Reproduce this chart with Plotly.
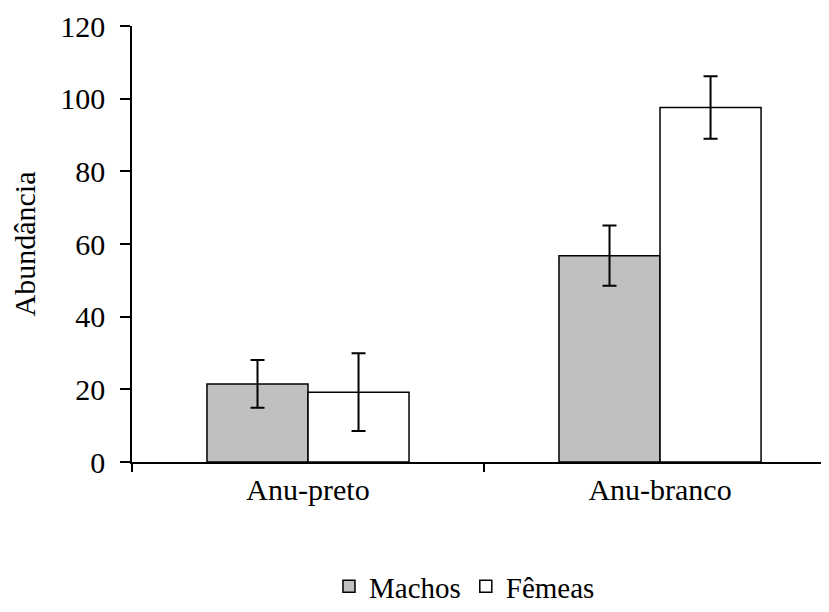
import plotly.graph_objects as go

categories = ["Anu-preto", "Anu-branco"]
machos = [21.5, 56.8]
machos_err = [6.6, 8.3]
femeas = [19.2, 97.6]
femeas_err = [10.7, 8.6]
y_ticks = [0, 20, 40, 60, 80, 100, 120]

FONT = "Liberation Serif, Times New Roman, serif"

fig = go.Figure()
fig.add_trace(go.Bar(
    name="Machos", x=categories, y=machos,
    marker=dict(color="#c0c0c0", line=dict(color="black", width=1.5)),
    error_y=dict(type="data", array=machos_err, color="black", thickness=2, width=7),
))
fig.add_trace(go.Bar(
    name="Fêmeas", x=categories, y=femeas,
    marker=dict(color="white", line=dict(color="black", width=1.5)),
    error_y=dict(type="data", array=femeas_err, color="black", thickness=2, width=7),
))

# page body has an 8px margin; compensate so the plot lands where the reference has it
fig.update_layout(
    width=821, height=604,
    margin=dict(l=124, r=0, t=18, b=150),
    paper_bgcolor="white", plot_bgcolor="white",
    barmode="group", bargap=0.426, bargroupgap=0,
    font=dict(family=FONT, size=30, color="black"),
    showlegend=True,
    legend=dict(orientation="h", x=0.477, xanchor="center",
                yref="container", y=0, yanchor="bottom",
                font=dict(family=FONT, size=29, color="black"),
                itemwidth=30, traceorder="normal"),
    xaxis=dict(
        range=[-0.5, 1.48],
        showline=True, linecolor="black", linewidth=1.5,
        ticks="outside", tickson="boundaries", ticklen=8, tickcolor="black", tickwidth=1.5,
        tickfont=dict(family=FONT, size=30, color="black"),
        showgrid=False, zeroline=False,
    ),
    yaxis=dict(
        range=[0, 120], tickvals=y_ticks,
        showline=True, linecolor="black", linewidth=1.5,
        ticks="outside", ticklen=10, tickcolor="black", tickwidth=1.5,
        ticklabelstandoff=9,
        tickfont=dict(family=FONT, size=30, color="black"),
        showgrid=False, zeroline=False,
        title=dict(text="Abundância", font=dict(family=FONT, size=30, color="black"), standoff=20),
    ),
)

fig.write_html("out.html")
